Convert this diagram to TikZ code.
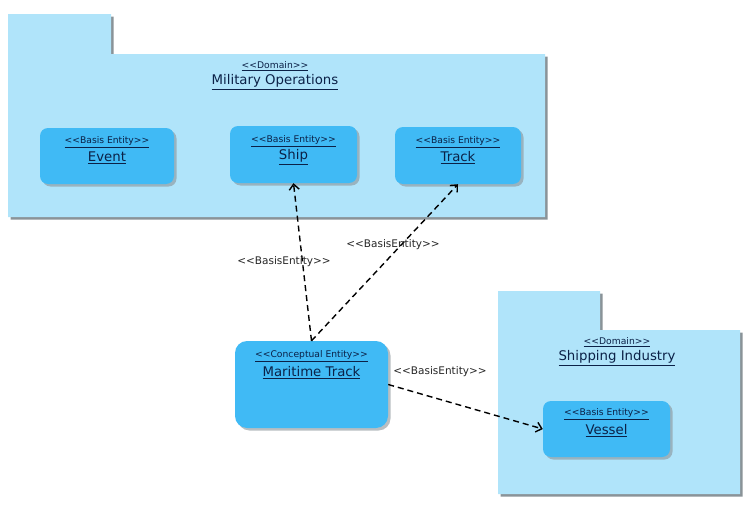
\documentclass[tikz,border=0pt]{standalone}
\usepackage{fontspec}
\setmainfont{DejaVu Sans}[Ligatures=TeXOff]
\usetikzlibrary{arrows.meta,shadows}
\definecolor{pkgfill}{HTML}{B0E4FA}
\definecolor{boxfill}{HTML}{40BAF5}
\definecolor{navy}{HTML}{0B2147}
\definecolor{shadowgrey}{HTML}{8A9398}
\tikzset{
  entity/.style={draw=none, fill=boxfill, rounded corners=8pt, inner sep=0pt,
    drop shadow={shadow xshift=2.5pt, shadow yshift=-2.5pt, fill=shadowgrey, opacity=0.6}},
  stereo/.style={text=navy, font=\fontsize{9.2}{11}\selectfont, inner sep=0pt},
  ename/.style={text=navy, font=\fontsize{13.3}{15}\selectfont, inner sep=0pt},
  dep/.style={draw=black, line width=1.4pt, dash pattern=on 6pt off 4pt,
    -{Straight Barb[length=5.5pt,width=10pt,line width=1.4pt]}},
  deplabel/.style={text=black!85, font=\fontsize{10.5}{12}\selectfont, inner sep=1pt},
}
\begin{document}
\begin{tikzpicture}[x=1pt,y=-1pt]
\useasboundingbox (0,0) rectangle (748,514);
% Military Operations package
\fill[shadowgrey] (10.5,16.5) -- (113.5,16.5) -- (113.5,56.5) -- (547.5,56.5) -- (547.5,219.5) -- (10.5,219.5) -- cycle;
\fill[pkgfill] (8,14) -- (111,14) -- (111,54) -- (545,54) -- (545,217) -- (8,217) -- cycle;
\node[stereo] (mostereo) at (275,66) {\underline{<<Domain>>}};
\node[ename] (moname) at (275,82) {\underline{Military Operations}};
% Shipping Industry package
\fill[shadowgrey] (500.5,293.5) -- (602.5,293.5) -- (602.5,332.5) -- (742.5,332.5) -- (742.5,496.5) -- (500.5,496.5) -- cycle;
\fill[pkgfill] (498,291) -- (600,291) -- (600,330) -- (740,330) -- (740,494) -- (498,494) -- cycle;
\node[stereo] (sistereo) at (617,342) {\underline{<<Domain>>}};
\node[ename] (siname) at (617,358) {\underline{Shipping Industry}};
% Entities
\node[entity, minimum width=134pt, minimum height=56pt] (event) at (107,156) {};
\node[stereo] at (107,142) {\underline{<<Basis Entity>>}};
\node[ename] at (107,158) {\underline{Event}};
\node[entity, minimum width=127pt, minimum height=57pt] (ship) at (293.5,154.5) {};
\node[stereo] at (293.5,141) {\underline{<<Basis Entity>>}};
\node[ename] at (293.5,157) {\underline{Ship}};
\node[entity, minimum width=126pt, minimum height=57pt] (track) at (458,155.5) {};
\node[stereo] at (458,142) {\underline{<<Basis Entity>>}};
\node[ename] at (458,158) {\underline{Track}};
\node[entity, minimum width=127pt, minimum height=56pt] (vessel) at (606.5,429) {};
\node[stereo] at (606.5,414) {\underline{<<Basis Entity>>}};
\node[ename] at (606.5,431) {\underline{Vessel}};
\node[entity, rounded corners=12pt, minimum width=153pt, minimum height=87pt] (mt) at (311.5,384.5) {};
\node[stereo] at (311.5,356) {\underline{<<Conceptual Entity>>}};
\node[ename] at (311.5,373) {\underline{Maritime Track}};
% Dependencies
\draw[dep] (mt.north) -- (ship.south);
\draw[dep] (mt.north) -- (track.south);
\draw[dep] (mt.east) -- (vessel.west);
\node[deplabel] (l1) at (284,262) {<<BasisEntity>>};
\node[deplabel] (l2) at (393,245) {<<BasisEntity>>};
\node[deplabel] (l3) at (440,372) {<<BasisEntity>>};
\end{tikzpicture}
\end{document}
